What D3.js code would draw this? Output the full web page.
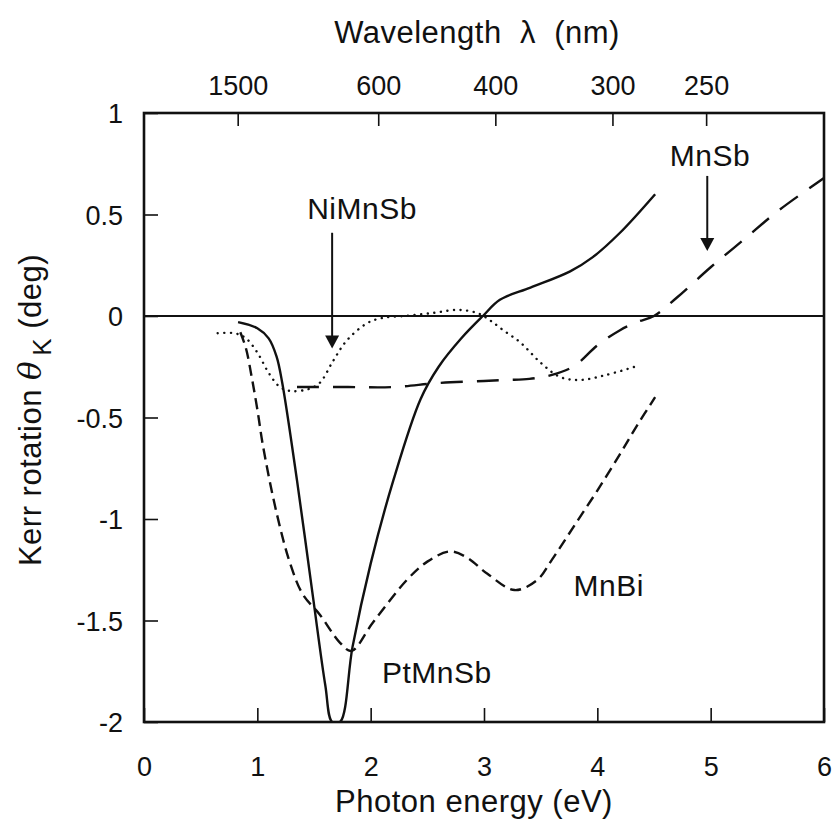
<!DOCTYPE html>
<html>
<head>
<meta charset="utf-8">
<script src="https://cdn.jsdelivr.net/npm/d3@7"></script>
<style>
  body { margin: 0; background: #fff; }
  text { font-family: "Liberation Sans", Arial, Helvetica, sans-serif; fill: #111; white-space: pre; }
  .curve { fill: none; stroke: #111; stroke-width: 2.4; }
</style>
</head>
<body>
<div id="chart"></div>
<script>
// photon energy (eV), Kerr rotation (deg)
var ptmnsb = [[0.83,-0.03],[1.0,-0.06],[1.1,-0.11],[1.17,-0.2],[1.22,-0.33],[1.35,-0.81],[1.49,-1.38],[1.6,-1.82],[1.66,-2.0],[1.73,-2.0],[1.84,-1.63],[2.0,-1.22],[2.2,-0.81],[2.44,-0.41],[2.6,-0.25],[2.8,-0.11],[2.99,0.0],[3.14,0.08],[3.41,0.14],[3.76,0.22],[3.96,0.29],[4.2,0.41],[4.51,0.6]];
var mnbi = [[0.85,-0.08],[0.9,-0.16],[0.95,-0.3],[1.0,-0.46],[1.05,-0.64],[1.17,-0.97],[1.29,-1.22],[1.4,-1.37],[1.55,-1.47],[1.73,-1.61],[1.83,-1.65],[2.02,-1.51],[2.32,-1.3],[2.5,-1.21],[2.7,-1.16],[2.85,-1.19],[3.03,-1.27],[3.27,-1.35],[3.47,-1.3],[3.6,-1.2],[3.8,-1.03],[4.0,-0.86],[4.2,-0.68],[4.35,-0.54],[4.51,-0.4]];
var nimnsb = [[0.65,-0.085],[0.8,-0.085],[0.9,-0.11],[1.0,-0.18],[1.1,-0.28],[1.2,-0.35],[1.3,-0.37],[1.45,-0.36],[1.55,-0.33],[1.67,-0.22],[1.79,-0.12],[1.97,-0.035],[2.1,-0.01],[2.3,0.0],[2.55,0.015],[2.77,0.03],[2.94,0.015],[3.05,-0.02],[3.17,-0.07],[3.32,-0.13],[3.5,-0.23],[3.67,-0.3],[3.85,-0.315],[4.08,-0.29],[4.33,-0.25]];
var mnsb = [[1.35,-0.35],[1.8,-0.35],[2.2,-0.35],[2.6,-0.33],[3.0,-0.32],[3.2,-0.315],[3.4,-0.31],[3.6,-0.29],[3.8,-0.245],[4.0,-0.145],[4.2,-0.07],[4.35,-0.03],[4.5,0.0],[4.7,0.09],[5.0,0.24],[5.3,0.38],[5.6,0.52],[6.0,0.68]];

var energyTicks = [0, 1, 2, 3, 4, 5, 6];
var kerrTicks = [1, 0.5, 0, -0.5, -1, -1.5, -2];
var wavelengthTicks = [1500, 600, 400, 300, 250];

// labels and arrows, in data coordinates
var labels = [
  { name: "NiMnSb", e: 1.44, k: 0.48 },
  { name: "MnSb", e: 4.64, k: 0.74 },
  { name: "MnBi", e: 3.79, k: -1.38 },
  { name: "PtMnSb", e: 2.1, k: -1.81 }
];
var arrows = [
  { e: 1.66, from: 0.41, to: -0.16 },
  { e: 4.97, from: 0.69, to: 0.32 }
];

var width = 835, height = 824;
var x = d3.scaleLinear().domain([0, 6]).range([144, 824]);
var y = d3.scaleLinear().domain([-2, 1]).range([722, 113]);

var svg = d3.select("#chart").append("svg")
  .attr("width", width).attr("height", height);

svg.append("defs").append("clipPath").attr("id", "plot")
  .append("rect").attr("x", x(0)).attr("y", y(1))
  .attr("width", x(6) - x(0)).attr("height", y(-2) - y(1));

// axes, ticks point inward
var bottomAxis = svg.append("g").attr("transform", "translate(0," + y(-2) + ")")
  .call(d3.axisBottom(x).tickValues(energyTicks).tickSize(-14).tickPadding(35).tickFormat(function (d) { return d; }));
var leftAxis = svg.append("g").attr("transform", "translate(" + x(0) + ",0)")
  .call(d3.axisLeft(y).tickValues(kerrTicks).tickSize(-14).tickPadding(21).tickFormat(function (d) { return String(d); }));
var topAxis = svg.append("g").attr("transform", "translate(0," + y(1) + ")")
  .call(d3.axisTop(x).tickValues(wavelengthTicks.map(function (w) { return 1240 / w; }))
    .tickSize(-13).tickPadding(18).tickFormat(function (d, i) { return wavelengthTicks[i]; }));

[bottomAxis, leftAxis, topAxis].forEach(function (a) {
  a.select(".domain").remove();
  a.selectAll(".tick line").attr("stroke", "#111").attr("stroke-width", 1.6);
  a.selectAll(".tick text").style("font-size", "27px").attr("fill", "#111");
});
leftAxis.selectAll(".tick text").attr("dy", "0.36em");

svg.append("rect")
  .attr("x", x(0)).attr("y", y(1))
  .attr("width", x(6) - x(0)).attr("height", y(-2) - y(1))
  .attr("fill", "none").attr("stroke", "#111").attr("stroke-width", 2.6);

svg.append("line")
  .attr("x1", x(0)).attr("x2", x(6)).attr("y1", y(0)).attr("y2", y(0))
  .attr("stroke", "#111").attr("stroke-width", 2);

// axis titles
svg.append("text").attr("x", 474).attr("y", 812)
  .attr("text-anchor", "middle").style("font-size", "31px").style("letter-spacing", "0.5px")
  .text("Photon energy (eV)");
svg.append("text").attr("x", 477).attr("y", 43)
  .attr("text-anchor", "middle").style("font-size", "31px").style("letter-spacing", "0.5px")
  .text("Wavelength  \u03bb  (nm)");

var yt = svg.append("text").attr("transform", "translate(41,410) rotate(-90)")
  .attr("text-anchor", "middle").style("font-size", "31px").style("letter-spacing", "0.5px");
yt.append("tspan").text("Kerr rotation ");
yt.append("tspan").style("font-style", "italic").style("font-family", "'DejaVu Serif', serif").text("\u03b8");
yt.append("tspan").attr("dy", 10).attr("dx", 5).style("font-size", "26px").text("K");
yt.append("tspan").attr("dy", -10).text(" (deg)");

// curves
var line = d3.line()
  .x(function (d) { return x(d[0]); })
  .y(function (d) { return y(d[1]); })
  .curve(d3.curveCatmullRom.alpha(0.5));

var plot = svg.append("g").attr("clip-path", "url(#plot)");
plot.append("path").datum(ptmnsb).attr("class", "curve").attr("d", line);
plot.append("path").datum(mnbi).attr("class", "curve").attr("d", line)
  .attr("stroke-dasharray", "11 6");
plot.append("path").datum(mnsb).attr("class", "curve").attr("d", line)
  .attr("stroke-dasharray", "22 14");
plot.append("path").datum(nimnsb).attr("class", "curve").attr("d", line)
  .attr("stroke-width", 3).attr("stroke-linecap", "round").attr("stroke-dasharray", "0.1 6.5");

// annotations
svg.selectAll(".lab").data(labels).enter().append("text")
  .attr("class", "lab")
  .attr("x", function (d) { return x(d.e); })
  .attr("y", function (d) { return y(d.k); })
  .style("font-size", "30px").style("letter-spacing", "0.5px")
  .text(function (d) { return d.name; });

arrows.forEach(function (a) {
  var ax = x(a.e), y0 = y(a.from), y1 = y(a.to);
  svg.append("line").attr("x1", ax).attr("x2", ax).attr("y1", y0).attr("y2", y1 - 10)
    .attr("stroke", "#111").attr("stroke-width", 2);
  svg.append("path")
    .attr("d", "M" + (ax - 7) + "," + (y1 - 13) + "L" + (ax + 7) + "," + (y1 - 13) + "L" + ax + "," + y1 + "Z")
    .attr("fill", "#111");
});
</script>
</body>
</html>
